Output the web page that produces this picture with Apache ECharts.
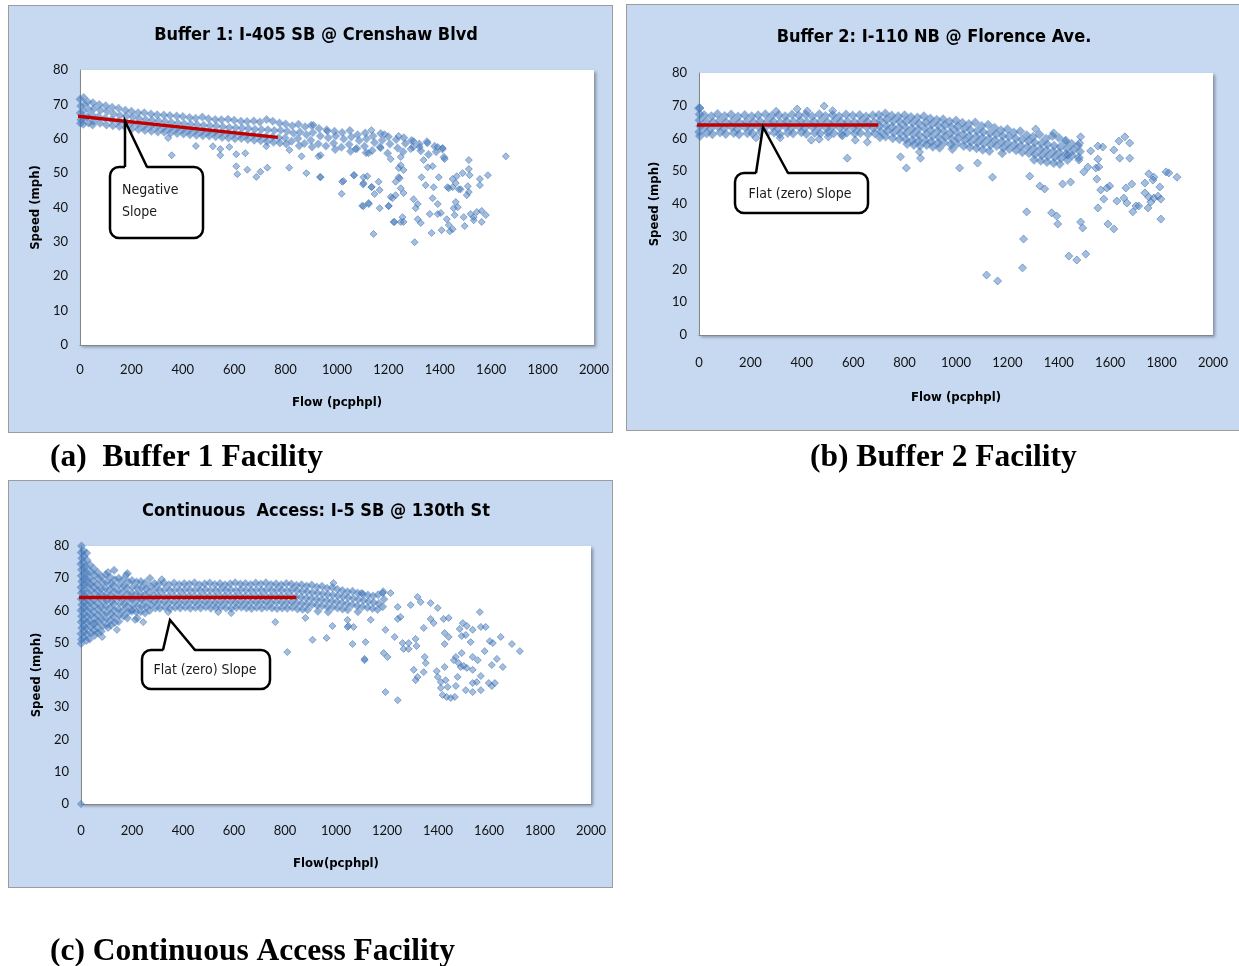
<!DOCTYPE html>
<html>
<head>
<meta charset="utf-8">
<title>Speed-Flow Relationships at HOV Facilities</title>
<script src="https://cdn.jsdelivr.net/npm/echarts@6/dist/echarts.min.js"></script>
<style>
  html, body { margin: 0; padding: 0; background: #ffffff; }
  #page { position: relative; width: 1239px; height: 966px; overflow: hidden; }
  .panel { position: absolute; background: #C6D9F1; border: 1px solid #9C9C9C; box-sizing: border-box; }
  #chart { position: absolute; left: 0; top: 0; width: 1239px; height: 966px; }
</style>
</head>
<body>
<div id="page">
  <div class="panel" style="left:8px; top:5px; width:605px; height:428px;"></div>
  <div class="panel" style="left:626px; top:4px; width:630px; height:427px;"></div>
  <div class="panel" style="left:8px; top:480px; width:605px; height:408px;"></div>
  <div id="chart"></div>
</div>
<script>
// ---- Axis ticks (shared by all three panels) ----
const flowTicks = [0, 200, 400, 600, 800, 1000, 1200, 1400, 1600, 1800, 2000];
const speedTicks = [0, 10, 20, 30, 40, 50, 60, 70, 80];

// ---- Panel titles, axis names and captions ----
const titles = [
  'Buffer 1: I-405 SB @ Crenshaw Blvd',
  'Buffer 2: I-110 NB @ Florence Ave.',
  'Continuous  Access: I-5 SB @ 130th St'
];
const speedNames = ['Speed (mph)', 'Speed (mph)', 'Speed (mph)'];
const flowNames = ['Flow (pcphpl)', 'Flow (pcphpl)', 'Flow(pcphpl)'];
const captions = ['(a)  Buffer 1 Facility', '(b) Buffer 2 Facility', '(c) Continuous Access Facility'];
const calloutTexts = [['Negative', 'Slope'], ['Flat (zero) Slope'], ['Flat (zero) Slope']];

// ---- Buffer 1 (I-405 SB @ Crenshaw Blvd): [flow, speed] ----
const buffer1Core = [
  [0,71.5],[3,69.5],[1,67.5],[4,65.5],[2,64.5],
  [14,72],[18,70],[12,68],[16,66],[13,64.2],
  [30,70.8],[34,68.6],[28,66.4],[33,64.6],
  [50,70.5],[55,68.8],[47,67],[53,65.2],[49,64],
  [75,70],[80,68.3],[72,66.5],[78,64.5],
  [100,69.6],[106,67.9],[97,66],[103,64],
  [125,69.2],[131,67.2],[122,65.5],[128,63.8],
  [150,68.9],[156,66.8],[148,65],[153,63.6],
  [176,68.3],[181,66.6],[173,64.8],[178,63.2],
  [200,68],[206,66.3],[198,64.5],[203,63],
  [226,67.6],[231,65.8],[223,64.2],[228,62.7],
  [250,67.6],[256,65.5],[248,63.7],[253,62.4],
  [276,67.2],[281,65.4],[273,63.6],[278,62.2],
  [300,67],[306,65.2],[298,63.4],[303,62],
  [326,66.9],[331,65],[323,63.1],[328,61.9],
  [350,66.8],[356,64.7],[348,63],[353,61.7],
  [376,66.6],[381,64.6],[373,62.8],[378,61.5],
  [400,66.5],[406,64.4],[398,62.6],[403,61.4],
  [426,66.2],[431,64.2],[423,62.4],[428,61.2],
  [450,66],[456,64.1],[448,62.3],[453,61],
  [476,66.3],[481,63.9],[473,62.1],[478,60.9],
  [500,65.8],[506,63.8],[498,62],[503,60.8],
  [526,65.6],[531,63.7],[523,61.9],[528,60.6],
  [550,65.5],[556,63.5],[548,61.7],[553,60.4],
  [576,65.7],[581,63.3],[573,61.6],[578,60.2],
  [600,65.4],[606,63.2],[598,61.4],[603,60],
  [626,65.1],[631,63.1],[623,61.3],[628,60.1],
  [650,65],[656,63],[648,61.1],[653,59.8],
  [676,65.2],[681,62.8],[673,61],[678,59.6],
  [700,64.9],[706,62.7],[698,60.8],[703,59.4],
  [726,65.6],[731,62.6],[723,60.6],[728,59.2],
  [750,65.1],[756,62.4],[748,60.5],[753,59],
  [776,64.6],[781,62.5],[773,60.3],[778,58.8],
  [800,64.3],[806,62.2],[798,60.2],[803,58.5],
  [826,63.8],[831,61.6],[823,59.3],
  [850,64.2],[856,62],[848,60.1],[853,58],
  [876,63.5],[881,61.2],[873,58.6],
  [900,63.9],[906,61.8],[898,59.6],[903,57.6],
  [930,63],[935,60.8],[927,58.5],
  [960,62.6],[966,60.3],[957,57.9],
  [990,62.2],[995,60.8],[987,58.7],[993,56.9],
  [1020,61.8],[1026,59.9],[1017,57.5],
  [1050,62.4],[1056,60.5],[1047,58.3],[1053,56.4],
  [1080,61.2],[1086,59.5],[1077,57.2],
  [1110,61.7],[1115,60],[1107,57.8],[1113,55.9],
  [1140,60.8],[1146,58.9],[1137,56.6],
  [1170,61.5],[1176,59.6],[1167,57.6],
  [1200,60.6],[1206,58.5],[1197,55.8],
  [1230,59.8],[1236,57.3],
  [1260,60.3],[1266,58.6],[1257,56.2],
  [1290,59.5],[1296,57.6],
  [1320,58.5],[1326,56.5],
  [1350,59.1],[1356,55.4],
  [1380,57.8],[1386,56.2],
  [1410,57],[1416,54.6]
];
const buffer1Scatter = [
  [357,55.2],[343,60.2],[451,57.9],[517,57.8],[546,55.2],[546,57],[581,57.6],[608,55.5],
  [608,52.0],[612,49.7],[651,51],[686,48.9],[702,50.4],[729,51.6],[643,55.8],[725,57.8],
  [814,51.6],[815,56.7],[881,50.0],[934,48.9],[862,54.9],[928,54.9],[1020,47.5],[1018,44.0],
  [1067,49.4],[1098,40.5],[1123,41.3],[1102,46.7],[1142,32.3],[1135,46.0],[1162,47.5],[1166,39.8],
  [1201,40.5],[1209,43.1],[1220,35.8],[1248,35.8],[1228,47.5],[1240,51.5],
  [908,64.0],[962,62.2],[1134,62.5],[1185,61.3],[1240,60.8],[1298,59.3],[1352,58.7],[1392,57.6],
  [1411,57.3],[1419,54.1],[1513,53.8],[1513,51.2],[1489,50.0],[1466,49.1],[1450,48.3],[1556,48.3],
  [1587,49.4],[1556,46.5],[1657,54.9],[1513,44.5],[1481,45.3],[1430,45.9],[1376,45.9],[1396,48.8],
  [1345,46.5],[1329,48.8],[936,48.8],[1025,47.7],[1065,49.4],[1103,48.8],[1118,49.1],[1103,47.1],
  [1103,40.4],[1124,41.0],[1134,45.9],[1146,43.9],[1166,45.1],[1201,40.4],[1216,42.7],[1228,43.6],
  [1248,45.6],[1240,48.8],[1259,44.2],[1224,35.8],[1255,37.2],[1259,35.8],[1306,39.8],[1298,42.4],
  [1314,41.0],[1314,36.6],[1326,35.5],[1302,29.9],[1361,38.1],[1368,32.6],[1372,42.7],[1392,41.0],
  [1392,38.1],[1404,38.4],[1427,36.6],[1435,34.9],[1407,33.4],[1439,33.1],[1450,33.7],[1458,37.8],
  [1462,41.6],[1454,39.8],[1470,40.1],[1497,34.6],[1493,37.2],[1520,38.1],[1532,37.2],[1544,38.7],
  [1563,39.0],[1579,37.8],[1563,35.8],[1532,36.3],[1505,43.6],[1509,46.2],[1516,49.4],[1435,45.6],
  [1462,47.1],[1474,45.3],[1450,45.9],
  [936,55.2],[1072,57],[1123,55.8],[1170,57.3],[1209,54.1],[1248,54.7],[1287,57],[1322,57.6],
  [1337,53.8],[1353,51.7],[1372,52],[1248,52.3],[1259,50.9],[1244,48.5]
];
const buffer1Trend = [[-15, 66.6], [770, 60.4]];

// ---- Buffer 2 (I-110 NB @ Florence Ave.): [flow, speed] ----
const buffer2Core = [
  [0,69.2],[3,67.4],[2,65.6],[5,63.8],[1,62],[4,60.8],
  [20,67.2],[28,65.2],[22,63.4],[30,61.6],
  [48,66.8],[55,65],[45,63],[52,61.3],
  [72,67.5],[80,65.4],[75,63.6],[82,61.8],
  [100,66.9],[106,64.9],[98,63.1],[104,61.4],
  [125,67.3],[132,65.3],[128,63.5],[135,61.7],
  [152,66.7],[158,64.8],[150,62.9],[156,61.2],
  [178,67.2],[185,65.2],[180,63.4],[188,61.6],
  [205,66.8],[212,65],[202,63.2],[208,61.5],
  [230,67.1],[238,65.3],[233,63.5],[240,61.9],
  [258,67.4],[265,65.1],[255,63.3],[262,61.4],
  [282,66.9],[290,65.2],[286,63.6],[292,61.8],
  [310,67.2],[316,65],[308,63.1],[314,61.3],
  [335,66.8],[342,65.3],[338,63.5],[345,61.7],
  [362,67.3],[368,65.1],[360,63.2],[366,61.5],
  [388,67],[395,65.4],[390,63.6],[398,61.9],
  [415,67.3],[420,65],[412,63.2],[418,61.4],
  [440,66.8],[448,65.2],[442,63.5],[450,61.7],
  [468,67.4],[474,65.3],[465,63.4],[472,61.5],
  [492,66.9],[500,65],[496,63.1],[502,61.8],
  [520,67.2],[526,65.3],[518,63.5],[524,61.6],
  [545,66.8],[552,65.1],[548,63.3],[555,61.4],
  [572,67.3],[578,65.2],[570,63.6],[576,61.8],
  [598,67],[605,65],[600,63.2],[606,61.5],
  [625,67.2],[630,65.3],[622,63.4],[628,61.7],
  [650,66.7],[656,65.1],[652,63.5],[658,61.3],
  [676,67.1],[682,65],[678,63.2],[684,61.6],
  [700,67.2],[706,65.5],[702,63.8],[708,62.1],[704,60.4],
  [725,67.6],[730,65.8],[728,64],[733,62.3],[726,60.6],
  [750,67],[756,65.3],[752,63.5],[758,61.8],[754,60.1],
  [775,66.8],[782,65.1],[778,63.3],[784,61.5],[780,59.8],
  [800,67.1],[806,65.2],[802,63.4],[808,61.6],[804,59.8],[810,58.3],
  [825,66.6],[832,64.8],[828,63],[834,61.2],[830,59.5],[836,58],
  [850,66.4],[856,64.6],[852,62.8],[858,61],[854,59.3],[860,57.8],
  [875,66.8],[882,64.9],[878,63.1],[884,61.3],[880,59.5],[886,58],
  [900,66.1],[906,64.3],[902,62.5],[908,60.7],[904,59],[910,57.5],
  [925,65.7],[932,64],[928,62.2],[934,60.4],[930,58.7],[936,57.2],
  [950,65.9],[956,64.1],[952,62.3],[958,60.5],[954,58.8],
  [975,65.2],[982,63.5],[978,61.7],[984,59.9],[980,58.2],[986,56.8],
  [1000,65.5],[1006,63.7],[1002,61.9],[1008,60.1],[1004,58.4],
  [1025,64.8],[1032,63],[1028,61.2],[1034,59.4],[1030,57.7],
  [1050,64.4],[1056,62.6],[1052,60.8],[1058,59],[1054,57.3],
  [1075,64.9],[1082,62.3],[1078,60.5],[1084,58.7],[1080,57],
  [1100,63.8],[1106,62],[1102,60.2],[1108,58.4],[1104,56.6],
  [1125,64.2],[1132,61.7],[1128,59.9],[1134,58],[1130,56.2],
  [1150,63.3],[1156,61.3],[1152,59.5],[1158,57.7],
  [1175,62.5],[1182,60.8],[1178,59],[1184,57.2],[1180,55.5],
  [1200,62.8],[1206,60.6],[1202,58.6],[1208,56.8],
  [1225,61.8],[1232,60],[1228,58.2],[1234,56.4],
  [1250,62.2],[1256,59.6],[1252,57.8],[1258,55.8],
  [1275,61],[1282,59.2],[1278,57.4],[1284,55.5],
  [1300,60.5],[1306,58.8],[1302,57],[1308,55.2],[1304,53.5],
  [1325,61.2],[1332,58.5],[1328,56.7],[1334,54.9],[1330,53.2],
  [1350,59.9],[1356,58.2],[1352,56.4],[1358,54.6],[1354,52.8],
  [1375,60.8],[1382,57.8],[1378,56],[1384,54.3],[1380,52.5],
  [1400,60.2],[1406,57.5],[1402,55.7],[1408,54],[1404,52.2],
  [1425,59],[1432,56.9],[1428,55.2],[1434,53.4],
  [1450,58.4],[1456,56.5],[1452,54.8],
  [1475,57.8],[1482,56],[1478,54.2]
];
const buffer2Scatter = [
  [4,69.3],[382,69.0],[487,69.9],[421,68.4],[300,68.3],[520,68.5],[222,60.2],[316,60.2],
  [437,59.5],[468,59.8],[503,60.5],[558,60.8],[577,54.0],[608,59.5],[655,58.9],[784,54.4],
  [807,51.0],[862,54.0],[858,55.9],[1014,51.0],[1142,48.2],[1084,52.5],
  [1287,48.5],[1326,45.5],[1345,44.6],[1275,37.6],[1263,29.3],[1259,20.5],[1119,18.3],[1162,16.5],
  [1372,37.3],[1392,36.3],[1396,33.9],[1439,24.1],[1470,22.9],[1505,24.7],[1485,34.5],[1493,32.7],
  [1415,46.1],[1446,46.7],[1552,38.8],[1591,33.9],[1614,32.4],[1575,41.5],[1563,44.3],[1587,44.9],
  [1598,45.5],[1626,40.9],[1653,41.8],[1661,44.9],[1684,46.1],[1665,40.3],[1688,37.6],[1700,39.4],
  [1711,39.4],[1735,46.4],[1750,49.2],[1770,48.2],[1766,47.3],[1735,43.4],[1750,42.1],[1747,38.8],
  [1758,40.6],[1770,41.8],[1786,42.4],[1793,45.2],[1797,41.5],[1797,35.4],[1817,49.8],[1828,49.5],
  [1860,48.2],[1548,47.6],[1544,51.0],[1556,51.3],[1513,51.3],[1497,49.8],[1478,53.4],[1637,54.0],
  [1676,54.0],[1676,58.6],[1657,60.5],[1634,59.2],[1614,56.5],[1571,57.4],[1552,57.7],[1524,56.2],
  [1485,60.5],[1481,58.6],[1552,53.7],[1427,59.5],[1435,55.0],[1380,61.7],[1310,62.9]
];
const buffer2Trend = [[-16, 64.1], [698, 64.1]];

// ---- Continuous access (I-5 SB @ 130th St): [flow, speed] ----
const continuousCore = [
  [2,80],[1,78],[3,76.2],[0,74.4],[2,72.6],[1,70.8],[3,69],[0,67.2],[2,65.4],[1,63.6],[3,61.8],[0,60],[2,58.2],[1,56.4],[3,54.6],[0,52.8],[2,51],[1,49.8],
  [10,78.5],[12,76.8],[9,75],[11,73.2],[13,71.4],[10,69.6],[12,67.8],[9,66],[11,64.2],[13,62.4],[10,60.6],[12,58.8],[9,57],[11,55.2],[13,53.4],[10,51.6],
  [22,77.8],[24,75.6],[20,73.5],[23,71.6],[21,69.7],[24,67.8],[22,65.9],[20,64],[23,62.1],[21,60.2],[24,58.3],[22,56.4],[20,54.5],[23,52.6],[21,50.7],
  [35,74.2],[38,72],[33,70.1],[36,68.2],[39,66.3],[34,64.4],[37,62.5],[35,60.6],[38,58.7],[33,56.8],[36,54.9],[39,53],[34,51.2],
  [50,73],[53,71],[48,69.1],[51,67.2],[54,65.3],[49,63.4],[52,61.5],[50,59.6],[53,57.7],[48,55.8],[51,53.9],[54,52.3],
  [66,71.8],[69,69.9],[64,68],[67,66.1],[70,64.2],[65,62.3],[68,60.4],[66,58.5],[69,56.6],[64,54.7],[67,53],
  [82,70.5],[85,68.6],[80,66.7],[83,64.8],[86,62.9],[81,61],[84,59.1],[82,57.2],[85,55.3],[80,53.6],
  [98,71.2],[101,68.9],[96,67],[99,65.1],[102,63.2],[97,61.3],[100,59.4],[98,57.5],[101,55.6],
  [115,70.3],[118,68.4],[113,66.5],[116,64.6],[119,62.7],[114,60.8],[117,58.9],[115,57],[118,55.4],
  [130,72.5],[133,69.5],[128,67.6],[131,65.7],[134,63.8],[129,61.9],[132,60],[130,58.1],[133,56.3],
  [148,70],[151,68],[146,66.1],[149,64.2],[152,62.3],[147,60.4],[150,58.5],[148,56.6],
  [165,69.6],[168,67.6],[163,65.7],[166,63.8],[169,61.9],[164,60],[167,58.2],
  [182,71.5],[185,68.9],[180,67],[183,65.1],[186,63.2],[181,61.3],[184,59.5],[182,57.7],
  [200,69.3],[203,67.3],[198,65.4],[201,63.5],[204,61.6],[199,59.8],
  [218,68.8],[221,67],[216,65.1],[219,63.2],[222,61.3],[217,59.5],[220,57.6],
  [235,69],[238,67.1],[233,65.2],[236,63.3],[239,61.4],[234,59.6],
  [252,68.6],[255,66.7],[250,64.8],[253,62.9],[256,61],[251,59.2],
  [270,70],[273,67.5],[268,65.6],[271,63.7],[274,61.8],[269,60],
  [288,68.4],[291,66.5],[286,64.6],[289,62.7],[292,60.8],
  [305,68.2],[308,66.3],[303,64.4],[306,62.5],[309,60.7],
  [325,68.6],[328,66.5],[323,64.6],[326,62.7],[329,61],
  [345,68],[348,66.2],[343,64.3],[346,62.4],[349,60.6],
  [365,68.5],[368,66.4],[363,64.5],[366,62.6],[369,60.9],
  [385,68.1],[388,66.2],[383,64.3],[386,62.4],[389,60.8],
  [405,68.4],[408,66.5],[403,64.6],[406,62.7],[409,61],
  [425,68.2],[428,66.3],[423,64.4],[426,62.5],[429,60.7],
  [445,68.6],[448,66.4],[443,64.5],[446,62.6],[449,60.9],
  [465,68],[468,66.2],[463,64.3],[466,62.4],[469,60.8],
  [485,68.3],[488,66.5],[483,64.6],[486,62.7],[489,61.1],
  [505,68.5],[508,66.3],[503,64.4],[506,62.5],[509,60.7],
  [525,68.1],[528,66.2],[523,64.3],[526,62.4],[529,60.9],
  [545,68.4],[548,66.5],[543,64.6],[546,62.7],[549,61],
  [565,68],[568,66.3],[563,64.4],[566,62.5],[569,60.8],
  [585,68.3],[588,66.4],[583,64.5],[586,62.6],[589,60.7],
  [605,68.6],[608,66.2],[603,64.3],[606,62.4],[609,60.9],
  [625,68.2],[628,66.5],[623,64.6],[626,62.7],[629,61],
  [645,68.4],[648,66.3],[643,64.4],[646,62.5],[649,60.8],
  [665,68.1],[668,66.2],[663,64.3],[666,62.4],[669,60.6],
  [685,68.5],[688,66.4],[683,64.5],[686,62.6],[689,60.9],
  [705,68.2],[708,66.3],[703,64.4],[706,62.5],[709,60.7],
  [725,68.6],[728,66.5],[723,64.6],[726,62.7],[729,61],
  [745,68.1],[748,66.2],[743,64.3],[746,62.4],[749,60.8],
  [765,68.3],[768,66.4],[763,64.5],[766,62.6],[769,60.6],
  [785,68],[788,66.3],[783,64.4],[786,62.5],[789,60.8],
  [805,68.4],[808,66.2],[803,64.3],[806,62.4],[809,60.7],
  [825,68.2],[828,66.4],[823,64.5],[826,62.6],[829,60.9],
  [845,67.8],[848,66.1],[843,64.2],[846,62.3],[849,60.5],
  [865,68],[868,66],[863,64.1],[866,62.2],[869,60.4],
  [885,67.6],[888,65.8],[883,63.9],[886,62],[889,60.2],
  [905,67.9],[908,65.6],[903,63.7],[906,61.8],
  [925,67.3],[928,65.4],[923,63.5],[926,61.6],[929,59.8],
  [945,67.5],[948,65.2],[943,63.3],[946,61.4],
  [965,66.9],[968,65],[963,63.1],[966,61.2],[969,59.5],
  [985,67.1],[988,64.8],[983,62.9],[986,61],
  [1005,66.6],[1008,64.6],[1003,62.7],[1006,60.8],
  [1025,66.2],[1028,64.3],[1023,62.4],[1026,60.5],
  [1045,65.8],[1048,64],[1043,62.1],[1046,60.2],
  [1065,66],[1068,63.7],[1063,61.8],
  [1085,65.4],[1088,63.4],[1083,61.5],[1086,59.6],
  [1105,65.1],[1108,63.1],[1103,61.2],
  [1125,64.8],[1128,62.8],[1123,60.9],
  [1145,64.5],[1148,62.5],[1143,60.6],
  [1165,64.9],[1168,62.2],[1163,60.3],
  [1185,65.8],[1188,63.5],[1183,61.2]
];
const continuousScatter = [
  [0,0],
  [317,69.7],[106,71.9],[177,71],[538,59.5],[589,59.2],[762,56.4],[809,47.1],[880,57.7],
  [908,50.9],[963,51.5],[986,55.2],[990,68.5],[1045,57.1],[1049,55.2],[1065,49.6],[1112,45],
  [1116,50.2],[1100,65.4],[141,54],[212,57.1],[244,56.4],[342,59.5],[200,60.2],[83,51.8],
  [106,54.6],[55,56.1],
  [1045,54.9],[1069,54.9],[1112,44.6],[1136,57.1],[1194,54.0],[1187,46.8],[1202,45.6],[1194,34.7],
  [1242,32.2],[1230,51.8],[1242,57.4],[1253,58.0],[1261,49.9],[1265,48.1],[1285,48.1],[1285,49.9],
  [1312,51.2],[1316,49.0],[1305,41.6],[1320,39.4],[1312,38.4],[1348,45.6],[1352,43.7],[1344,40.9],
  [1344,54.6],[1371,57.4],[1383,56.1],[1422,57.4],[1442,57.7],[1426,53.0],[1442,51.8],[1426,49.6],
  [1395,41.2],[1399,39.4],[1426,42.5],[1411,37.8],[1430,38.4],[1438,36.3],[1411,36.0],[1418,33.8],
  [1434,33.2],[1450,32.9],[1466,33.2],[1470,36.6],[1477,39.4],[1462,44.6],[1470,45.6],[1481,43.7],
  [1489,42.5],[1493,46.8],[1501,42.8],[1513,42.2],[1485,54.3],[1497,56.1],[1513,55.2],[1493,52.1],
  [1509,52.4],[1528,50.2],[1536,54.0],[1536,45.6],[1556,44.6],[1564,59.5],[1568,54.9],[1587,54.9],
  [1603,50.5],[1615,49.9],[1583,47.4],[1631,45.0],[1654,42.5],[1611,43.1],[1646,51.8],[1690,49.6],
  [1721,47.4],[1536,41.6],[1568,39.7],[1552,37.8],[1536,37.5],[1509,35.3],[1536,34.7],[1568,35.3],
  [1599,37.5],[1611,36.6],[1623,37.5],[1183,65.4],[1214,65.4],[1320,64.2],[1371,62.3],[1399,60.8],
  [1332,62.6],[1293,61.7],[1242,61.1]
];
const continuousTrend = [[-16, 64.0], [845, 64.0]];

// ---- Layout of the three plot areas (pixels) ----
const grids = [
  { left: 80,  top: 70,  width: 514, height: 275, symbolSize: 7, coreSize: 9,  xMargin: 18, xGap: 51 },
  { left: 699, top: 73,  width: 514, height: 262, symbolSize: 8, coreSize: 10, xMargin: 21, xGap: 56 },
  { left: 81,  top: 546, width: 510, height: 258, symbolSize: 7, coreSize: 9,  xMargin: 20, xGap: 53 }
];
const panelData = [
  { core: buffer1Core, scatter: buffer1Scatter, trend: buffer1Trend },
  { core: buffer2Core, scatter: buffer2Scatter, trend: buffer2Trend },
  { core: continuousCore, scatter: continuousScatter, trend: continuousTrend }
];

const narrow = "'Liberation Sans Narrow', 'DejaVu Sans Condensed', 'Liberation Sans', sans-serif";
const tickFont = "Lato, 'Open Sans', sans-serif";
const coreStyle = {
  color: 'rgba(68,120,186,0.72)',
  borderWidth: 0
};
const scatterStyle = {
  color: 'rgba(72,124,189,0.62)',
  borderColor: 'rgba(60,110,178,0.85)',
  borderWidth: 0.8
};

const chart = echarts.init(document.getElementById('chart'), null, { renderer: 'canvas' });

const option = {
  animation: false,
  backgroundColor: 'transparent',
  grid: grids.map(g => ({
    left: g.left, top: g.top, width: g.width, height: g.height,
    show: true, backgroundColor: '#ffffff', borderWidth: 0,
    shadowColor: 'rgba(0,0,0,0.35)', shadowBlur: 3, shadowOffsetX: 2, shadowOffsetY: 2,
    containLabel: false
  })),
  xAxis: grids.map((g, i) => ({
    gridIndex: i, type: 'value',
    min: flowTicks[0], max: flowTicks[flowTicks.length - 1],
    interval: flowTicks[1] - flowTicks[0],
    name: flowNames[i], nameLocation: 'middle', nameGap: g.xGap,
    nameTextStyle: { fontFamily: narrow, fontWeight: 'bold', fontSize: 13, color: '#000' },
    axisLine: { show: true, onZero: false, lineStyle: { color: '#868686', width: 1 } },
    axisTick: { show: false },
    splitLine: { show: false },
    axisLabel: { margin: g.xMargin, fontFamily: tickFont, fontSize: 13, color: '#111',
                 formatter: v => String(v) }
  })),
  yAxis: grids.map((g, i) => ({
    gridIndex: i, type: 'value',
    min: speedTicks[0], max: speedTicks[speedTicks.length - 1],
    interval: speedTicks[1] - speedTicks[0],
    name: speedNames[i], nameLocation: 'middle', nameGap: 38, nameRotate: 90,
    nameTextStyle: { fontFamily: narrow, fontWeight: 'bold', fontSize: 13, color: '#000' },
    axisLine: { show: true, onZero: false, lineStyle: { color: '#868686', width: 1 } },
    axisTick: { show: false },
    splitLine: { show: false },
    axisLabel: { margin: 12, fontFamily: tickFont, fontSize: 13, color: '#111',
                 formatter: v => String(v) }
  })),
  series: panelData.flatMap((p, i) => [
    {
      type: 'scatter', xAxisIndex: i, yAxisIndex: i,
      data: p.core,
      symbol: 'diamond', symbolSize: grids[i].coreSize,
      itemStyle: coreStyle, z: 3
    },
    {
      type: 'scatter', xAxisIndex: i, yAxisIndex: i,
      data: p.scatter,
      symbol: 'diamond', symbolSize: grids[i].symbolSize,
      itemStyle: scatterStyle, z: 3
    },
    {
      type: 'line', xAxisIndex: i, yAxisIndex: i,
      data: p.trend, symbol: 'none', clip: false,
      lineStyle: { color: '#C00000', width: 3.5 }, z: 5
    }
  ]),
  graphic: []
};

// Panel titles
const titlePos = [[316, 35], [934, 37], [316, 511]];
titles.forEach((t, i) => {
  option.graphic.push({
    type: 'text', x: titlePos[i][0], y: titlePos[i][1], silent: true,
    style: { text: t, fontFamily: narrow, fontWeight: 'bold', fontSize: 18, fill: '#000',
             align: 'center', verticalAlign: 'middle' }
  });
});

// Callout bubbles: rounded box plus a pointer toward the trend line
const callouts = [
  { box: [110, 167, 93, 71], tip: [125, 121], base: [125, 147], lines: calloutTexts[0], textX: 122, textY: [190, 212], align: 'left' },
  { box: [735, 173, 133, 40], tip: [763, 127], base: [756, 788], lines: calloutTexts[1], textX: 800, textY: [194], align: 'center' },
  { box: [142, 650, 128, 39], tip: [170, 620], base: [163, 195], lines: calloutTexts[2], textX: 205, textY: [670], align: 'center' }
];
callouts.forEach(c => {
  const [bx, by, bw, bh] = c.box;
  option.graphic.push({
    type: 'rect', silent: true, z: 10,
    shape: { x: bx, y: by, width: bw, height: bh, r: 9 },
    style: { fill: '#ffffff', stroke: '#000000', lineWidth: 2.5 }
  });
  option.graphic.push({
    type: 'polygon', silent: true, z: 11,
    shape: { points: [[c.base[0], by + 2], c.tip, [c.base[1], by + 2]] },
    style: { fill: '#ffffff', stroke: null }
  });
  option.graphic.push({
    type: 'polyline', silent: true, z: 12,
    shape: { points: [[c.base[0], by], c.tip, [c.base[1], by]] },
    style: { stroke: '#000000', lineWidth: 2.5, fill: null, lineJoin: 'miter' }
  });
  c.lines.forEach((line, k) => {
    option.graphic.push({
      type: 'text', silent: true, z: 13, x: c.textX, y: c.textY[k],
      style: { text: line, fontFamily: narrow, fontSize: 14, fill: '#1a1a1a',
               align: c.align, verticalAlign: 'middle' }
    });
  });
});

// Figure captions
const captionPos = [[50, 458], [810, 458], [50, 952]];
captions.forEach((t, i) => {
  option.graphic.push({
    type: 'text', silent: true, x: captionPos[i][0], y: captionPos[i][1],
    style: { text: t, fontFamily: "'Liberation Serif', 'Times New Roman', serif", fontWeight: 'bold',
             fontSize: 31.5, fill: '#000', align: 'left', verticalAlign: 'middle' }
  });
});

chart.setOption(option);
</script>
</body>
</html>
